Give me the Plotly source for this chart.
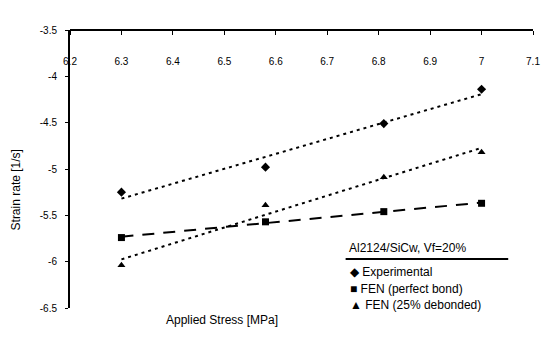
import numpy as np
import plotly.graph_objects as go

# ---- data ----
stress = [6.3, 6.58, 6.81, 7.0]
experimental = [-5.25, -4.98, -4.51, -4.14]
fen_perfect = [-5.74, -5.57, -5.46, -5.37]
fen_debond = [-6.04, -5.39, -5.09, -4.82]

series_names = ["Experimental", "FEN (perfect bond)", "FEN (25% debonded)"]
legend_glyphs = ["\u25C6", "\u25A0", "\u25B2"]
x_ticks = [6.2, 6.3, 6.4, 6.5, 6.6, 6.7, 6.8, 6.9, 7.0, 7.1]
x_ticktext = ["6.2", "6.3", "6.4", "6.5", "6.6", "6.7", "6.8", "6.9", "7", "7.1"]
y_ticks = [-3.5, -4, -4.5, -5, -5.5, -6, -6.5]
y_ticktext = ["-3.5", "-4", "-4.5", "-5", "-5.5", "-6", "-6.5"]
legend_title = "Al2124/SiCw, Vf=20%"

FONT = "Liberation Sans, Arial, sans-serif"

fig = go.Figure()

series = [experimental, fen_perfect, fen_debond]
symbols = ["diamond", "square", "triangle-up"]
dashes = ["3px,4px", "12px,9px", "3px,4px"]

# trendlines (least squares, like Excel linear trendlines)
for ys, dash in zip(series, dashes):
    coef = np.polyfit(stress, ys, 1)
    xs = [min(stress), max(stress)]
    fig.add_trace(go.Scatter(
        x=xs, y=list(np.polyval(coef, xs)), mode="lines",
        line=dict(color="black", width=2, dash=dash),
        showlegend=False, hoverinfo="skip"))

for ys, name, sym in zip(series, series_names, symbols):
    fig.add_trace(go.Scatter(
        x=stress, y=ys, mode="markers", name=name, showlegend=False,
        marker=dict(symbol=sym, size=7, color="black")))

fig.update_layout(
    width=552, height=345,
    margin=dict(l=70, r=15, t=30, b=37),
    paper_bgcolor="white", plot_bgcolor="white",
    font=dict(family=FONT, size=10, color="black"),
    showlegend=False,
    xaxis=dict(
        range=[6.2, 7.1], side="bottom", anchor="free", position=1,
        tickvals=x_ticks, ticktext=x_ticktext,
        ticks="outside", ticklen=4, tickcolor="black",
        ticklabelstandoff=18,
        showline=True, linecolor="black", linewidth=2,
        showgrid=False, zeroline=False,
        tickfont=dict(size=10, family=FONT),
    ),
    yaxis=dict(
        range=[-6.5, -3.5],
        tickvals=y_ticks, ticktext=y_ticktext,
        ticks="outside", ticklen=3, tickcolor="black",
        ticklabelstandoff=6,
        showline=True, linecolor="black", linewidth=2,
        showgrid=False, zeroline=False,
        tickfont=dict(size=10, family=FONT),
    ),
)

# legend block (title, rule, entries)
def px_x(p):
    return (p - 70) / 467

def px_y(p):
    return (308 - p) / 278

fig.add_annotation(
    text=legend_title, xref="paper", yref="paper",
    x=px_x(349), y=px_y(248), xanchor="left", yanchor="middle",
    showarrow=False, font=dict(size=12, family=FONT))
fig.add_shape(
    type="line", xref="paper", yref="paper",
    x0=px_x(348), x1=px_x(512), y0=px_y(259), y1=px_y(259),
    line=dict(color="black", width=2))
for i, (g, name) in enumerate(zip(legend_glyphs, series_names)):
    fig.add_annotation(
        text=g + " " + name, xref="paper", yref="paper",
        x=px_x(350), y=px_y(272 + 16.5 * i), xanchor="left", yanchor="middle",
        showarrow=False, font=dict(size=12, family=FONT))

fig.add_annotation(
    text="Applied Stress [MPa]", xref="paper", yref="paper",
    x=px_x(223), y=px_y(320), xanchor="center", yanchor="middle",
    showarrow=False, font=dict(size=12, family=FONT))
fig.add_annotation(
    text="Strain rate [1/s]", xref="paper", yref="paper",
    x=px_x(16), y=px_y(190), xanchor="center", yanchor="middle",
    textangle=-90, showarrow=False, font=dict(size=12, family=FONT))

fig.write_html("out.html")
